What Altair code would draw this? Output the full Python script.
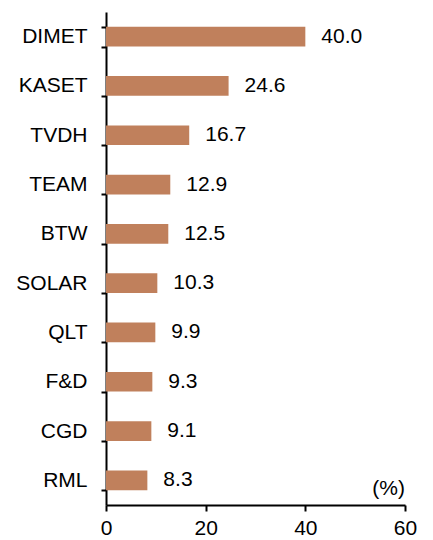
import altair as alt
import pandas as pd

categories = ["DIMET", "KASET", "TVDH", "TEAM", "BTW", "SOLAR", "QLT", "F&D", "CGD", "RML"]
values = [40.0, 24.6, 16.7, 12.9, 12.5, 10.3, 9.9, 9.3, 9.1, 8.3]
labels = ["40.0", "24.6", "16.7", "12.9", "12.5", "10.3", "9.9", "9.3", "9.1", "8.3"]
x_ticks = [0, 20, 40, 60]
unit_label = ["(%)"]

df = pd.DataFrame({"cat": categories, "val": values, "lab": labels})

FONT = "Liberation Sans"
FS = 21
W, H = 299, 493

x = alt.X("val:Q", scale=alt.Scale(domain=[0, 60], nice=False),
          axis=alt.Axis(values=x_ticks, title=None, grid=False, domainColor="black",
                        domainWidth=2, tickColor="black", tickWidth=2, tickSize=6,
                        labelFlush=False, labelOverlap=False,
                        labelFont=FONT, labelFontSize=FS, labelColor="black", labelPadding=6))
y = alt.Y("cat:N", sort=categories,
          scale=alt.Scale(paddingInner=0.6, paddingOuter=0.3),
          axis=alt.Axis(title=None, tickBand="extent", domainColor="black", domainWidth=2,
                        tickColor="black", tickWidth=2, tickSize=5,
                        labelFont=FONT, labelFontSize=FS, labelColor="black", labelPadding=14))

bars = alt.Chart(df).mark_bar(color="#C0805C").encode(x=x, y=y)
text = alt.Chart(df).mark_text(align="left", dx=16, font=FONT, fontSize=FS, color="black").encode(
    x="val:Q", y=alt.Y("cat:N", sort=categories), text="lab:N")
unit = alt.Chart(pd.DataFrame({"t": unit_label})).mark_text(
    align="right", baseline="middle", font=FONT, fontSize=FS, color="black").encode(
    x=alt.value(W), y=alt.value(H - 16), text="t:N")

chart = alt.layer(bars, text, unit).properties(
    width=W, height=H,
    background="white",
    autosize=alt.AutoSizeParams(type="none"),
    padding={"left": 98, "top": 4, "right": 20, "bottom": 40},
).configure_view(strokeWidth=0)

chart.save("out.html", embed_options={"renderer": "svg", "actions": False})
